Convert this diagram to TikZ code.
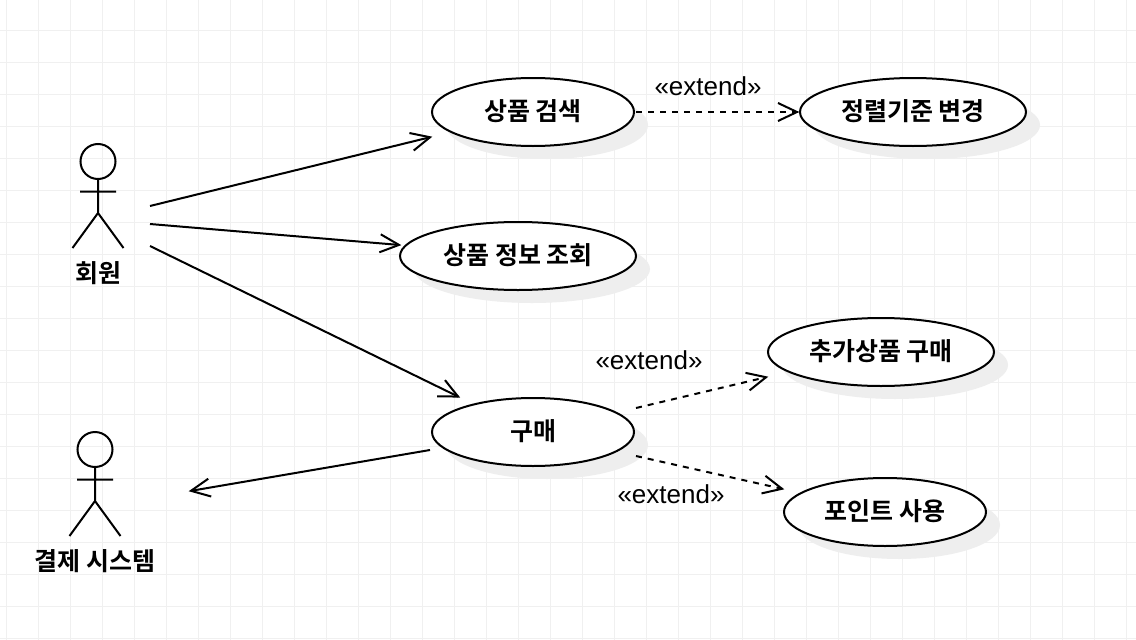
\documentclass[tikz,border=0pt]{standalone}
\usepackage{fontspec}
\setmainfont{Liberation Sans}
\newfontfamily\krfont{Noto Sans CJK KR Bold}
\usetikzlibrary{arrows.meta,shapes.geometric}
\definecolor{gridc}{HTML}{F0F0F0}
\definecolor{shadowc}{HTML}{EEEEEE}
\pgfdeclarearrow{
  name=UmlBarb,
  setup code={
    \pgfarrowssettipend{1pt}
    \pgfarrowssetlineend{0pt}
    \pgfarrowssetbackend{-19pt}
    \pgfarrowssetvisualbackend{-19pt}
  },
  drawing code={
    \pgfsetdash{}{0pt}
    \pgfsetmiterjoin
    \pgfpathmoveto{\pgfqpoint{-19pt}{9pt}}
    \pgfpathlineto{\pgfqpoint{0pt}{0pt}}
    \pgfpathlineto{\pgfqpoint{-19pt}{-9pt}}
    \pgfusepathqstroke
  }
}
\newcommand{\uclabel}[1]{\raisebox{1pt}[\height][\depth]{#1}}
\tikzset{
  x=1pt,y=-1pt,
  usecase/.style={ellipse,draw=black,line width=2pt,fill=white,minimum width=202pt,minimum height=68pt,inner sep=0pt,font=\krfont\fontsize{25}{28}\selectfont},
  shadowshape/.style={fill=shadowc,draw=none},
  assoc/.style={line width=2pt,-UmlBarb},
  extendedge/.style={assoc,dash pattern=on 6pt off 6pt},
  stick/.style={line width=2pt,draw=black},
  actorhead/.style={circle,draw=black,line width=2pt,minimum size=35pt,inner sep=0pt},
  actorlabel/.style={font=\krfont\fontsize{25}{28}\selectfont,inner sep=0pt},
  stereo/.style={font=\fontsize{26}{29}\selectfont,inner sep=0pt},
}
\begin{document}
\begin{tikzpicture}
\useasboundingbox (0,0) rectangle (1136,640);
\fill[white] (0,0) rectangle (1136,640);
% grid
\foreach \gx in {6,38,...,1126} {\draw[gridc,line width=1pt] (\gx,0) -- (\gx,640);}
\foreach \gy in {30,62,...,638} {\draw[gridc,line width=1pt] (0,\gy) -- (1136,\gy);}
% shadows
\foreach \cx/\cy/\rx in {533/112/101,913/112/113,518/256/118,881/352/113,533/432/101,885/512/101} {
  \fill[shadowshape] (\cx+14,\cy+13) ellipse [x radius=\rx,y radius=34];
}
% use cases
\node[usecase] (search) at (533,112) {\uclabel{상품 검색}};
\node[usecase,minimum width=226pt] (sort) at (913,112) {\uclabel{정렬기준 변경}};
\node[usecase,minimum width=236pt] (info) at (518,256) {\uclabel{상품 정보 조회}};
\node[usecase,minimum width=226pt] (extra) at (881,352) {\uclabel{추가상품 구매}};
\node[usecase] (buy) at (533,432) {\uclabel{구매}};
\node[usecase] (point) at (885,512) {\uclabel{포인트 사용}};
% actors
\node[actorhead] (head1) at (98,161.5) {};
\coordinate (hip1) at (98,213);
\coordinate (arml1) at (80,191.5);
\coordinate (armr1) at (116,191.5);
\coordinate (legl1) at (72.5,248);
\coordinate (legr1) at (123.5,248);
\draw[stick] (head1.south) -- (hip1) (arml1) -- (armr1) (legl1) -- (hip1) -- (legr1);
\node[actorlabel] (member) at (98,273.5) {회원};
\node[actorhead] (head2) at (95,449.5) {};
\coordinate (hip2) at (95,501);
\coordinate (arml2) at (77,479.5);
\coordinate (armr2) at (113,479.5);
\coordinate (legl2) at (69.5,536);
\coordinate (legr2) at (120.5,536);
\draw[stick] (head2.south) -- (hip2) (arml2) -- (armr2) (legl2) -- (hip2) -- (legr2);
\node[actorlabel] (payment) at (95,561.5) {결제 시스템};
% connector ends
\coordinate (m1) at (150,206);
\coordinate (m2) at (150,224);
\coordinate (m3) at (150,246);
\coordinate (t1) at (431,137);
\coordinate (t2) at (400,245);
\coordinate (t3) at (459,397);
\coordinate (b1) at (430,450);
\coordinate (p1) at (190,491);
\coordinate (e1s) at (636,112);
\coordinate (e1t) at (798,112);
\coordinate (e2s) at (636,408);
\coordinate (e2t) at (767,377);
\coordinate (e3s) at (636,456);
\coordinate (e3t) at (783,489);
\draw[assoc] (m1) -- (t1);
\draw[assoc] (m2) -- (t2);
\draw[assoc] (m3) -- (t3);
\draw[assoc] (b1) -- (p1);
\draw[extendedge] (e1s) -- (e1t);
\draw[extendedge] (e2s) -- (e2t);
\draw[extendedge] (e3s) -- (e3t);
\node[stereo] (l1) at (708,86) {«extend»};
\node[stereo] (l2) at (649,360) {«extend»};
\node[stereo] (l3) at (671,494) {«extend»};
\end{tikzpicture}
\end{document}
